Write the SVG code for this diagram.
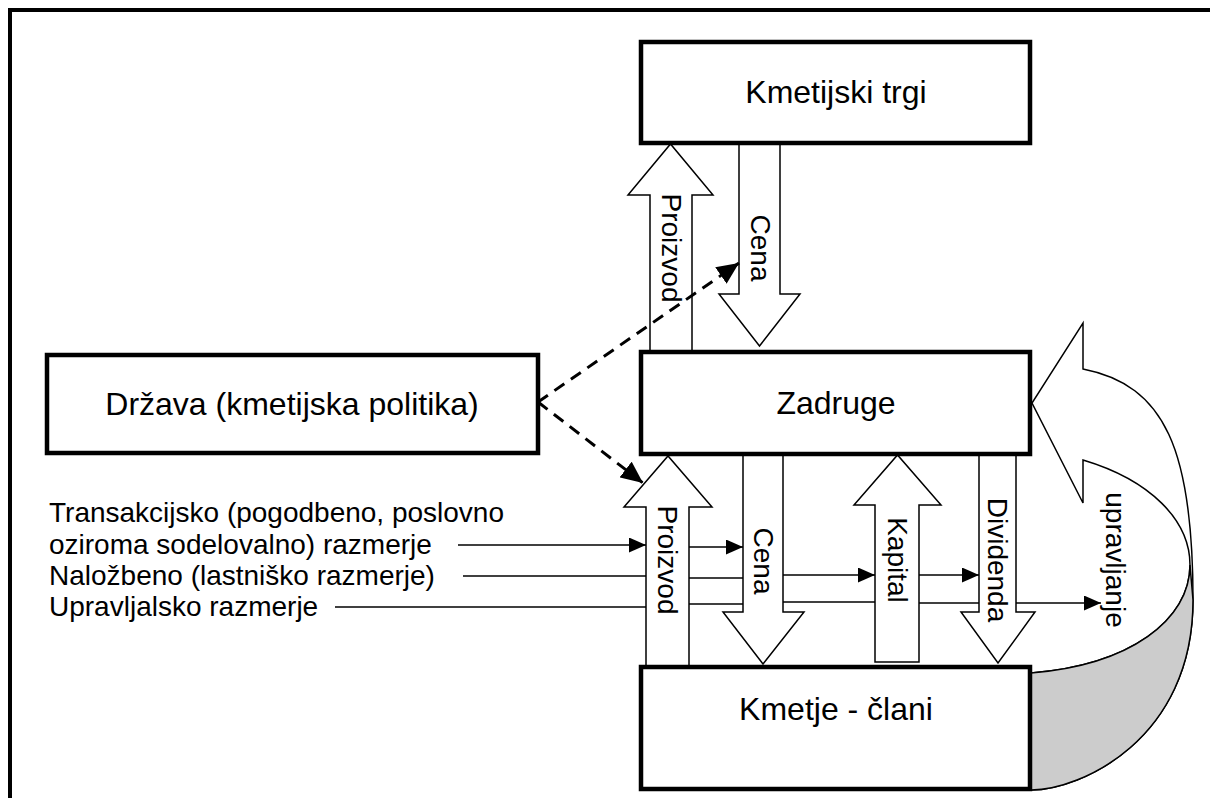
<svg xmlns="http://www.w3.org/2000/svg" width="1210" height="798" viewBox="0 0 1210 798">
<style>
.box{fill:#fff;stroke:#000;stroke-width:4.5}
.blk{fill:#fff;stroke:#000;stroke-width:1.5;stroke-linejoin:miter}
.t32{font-family:"Liberation Sans",Arial,sans-serif;font-size:32px;fill:#000;text-anchor:middle}
.t28{font-family:"Liberation Sans",Arial,sans-serif;font-size:28px;fill:#000}
.rot{font-family:"Liberation Sans",Arial,sans-serif;font-size:28px;fill:#000;text-anchor:middle;dominant-baseline:central}
.ln{fill:none;stroke:#000;stroke-width:1.5}
.lna{fill:none;stroke:#000;stroke-width:1.5;marker-end:url(#ah)}
.dash{fill:none;stroke:#000;stroke-width:3;stroke-dasharray:12 8;marker-end:url(#dh)}
</style>
<defs>
<marker id="ah" viewBox="0 0 17 15" refX="17" refY="7.5" markerWidth="17" markerHeight="15" markerUnits="userSpaceOnUse" orient="auto"><path d="M0,0 L17,7.5 L0,15 z" fill="#000"/></marker>
<marker id="dh" viewBox="0 0 22 20" refX="22" refY="10" markerWidth="22" markerHeight="20" markerUnits="userSpaceOnUse" orient="auto"><path d="M0,0 L22,10 L0,20 z" fill="#000"/></marker>
</defs>
<rect width="1210" height="798" fill="#fff"/>
<path d="M10,798 L10,10 L1210,10" fill="none" stroke="#000" stroke-width="4"/>

<g id="connectors">
  <!-- top block arrows -->
  <polygon class="blk" points="650,352 650,195 628,195 670.5,144 713,195 692,195 692,352"/>
  <polygon class="blk" points="739,143 739,294 719,294 759.5,346 800,294 780,294 780,143"/>
  <!-- middle block arrows -->
  <polygon class="blk" points="646,667 646,507 624,507 668,456 712,507 689,507 689,667"/>
  <polygon class="blk" points="743,454 743,612 723,612 763,664 804,612 783,612 783,454"/>
  <polygon class="blk" points="875,662 875,505 854,505 897.5,455 941,505 919,505 919,662"/>
  <polygon class="blk" points="979,454 979,612 961,612 998,663 1035,612 1016,612 1016,454"/>
  <!-- curved upravljanje arrow -->
  <path class="blk" d="M1031,790 C1080,790 1193,740 1193,600 C1193,450 1165,385 1083,369 L1083,323 L1032,403 L1083,503 L1083,460 C1150,480 1190,520 1190,565 C1190,620 1130,665 1031,673"/>
  <path d="M1190,565 C1190,620 1130,665 1031,673 L1031,790 C1080,790 1193,740 1193,600 Z" fill="#cccccc" stroke="#000" stroke-width="1.5"/>
  <!-- dashed arrows -->
  <path class="dash" d="M538,402 L739,263"/>
  <path class="dash" d="M538,402 L643,483"/>
  <!-- thin relation lines -->
  <path class="lna" d="M458,545 H646"/>
  <path class="lna" d="M689,547 H743"/>
  <path class="ln" d="M463,576 H646"/>
  <path class="ln" d="M689,578 H743"/>
  <path class="lna" d="M783,575 H875"/>
  <path class="lna" d="M919,575 H979"/>
  <path class="ln" d="M335,607 H646"/>
  <path class="ln" d="M689,604 H743"/>
  <path class="ln" d="M783,602 H875"/>
  <path class="ln" d="M919,603 H979"/>
  <path class="lna" d="M1016,603 H1101"/>
  <!-- arrow labels -->
  <text class="rot" transform="translate(671,248) rotate(90)">Proizvod</text>
  <text class="rot" transform="translate(760,248) rotate(90)">Cena</text>
  <text class="rot" transform="translate(667,560) rotate(90)">Proizvod</text>
  <text class="rot" transform="translate(763,561) rotate(90)">Cena</text>
  <text class="rot" transform="translate(897,560) rotate(90)">Kapital</text>
  <text class="rot" transform="translate(997,560) rotate(90)">Dividenda</text>
  <text class="rot" transform="translate(1115,560) rotate(90)">upravljanje</text>
</g>

<g id="labels">
  <text class="t28" x="49" y="522">Transakcijsko (pogodbeno, poslovno</text>
  <text class="t28" x="49" y="554">oziroma sodelovalno) razmerje</text>
  <text class="t28" x="49" y="585">Naložbeno (lastniško razmerje)</text>
  <text class="t28" x="49" y="616">Upravljalsko razmerje</text>
</g>

<g id="kmetijski-trgi">
  <rect class="box" x="641" y="42" width="389" height="101"/>
  <text class="t32" x="836" y="103">Kmetijski trgi</text>
</g>
<g id="drzava">
  <rect class="box" x="47" y="355" width="491" height="98"/>
  <text class="t32" x="292" y="415">Država (kmetijska politika)</text>
</g>
<g id="zadruge">
  <rect class="box" x="641" y="352" width="389" height="102"/>
  <text class="t32" x="836" y="414">Zadruge</text>
</g>
<g id="kmetje">
  <rect class="box" x="641" y="667" width="389" height="122"/>
  <text class="t32" x="836" y="720">Kmetje - člani</text>
</g>
</svg>
